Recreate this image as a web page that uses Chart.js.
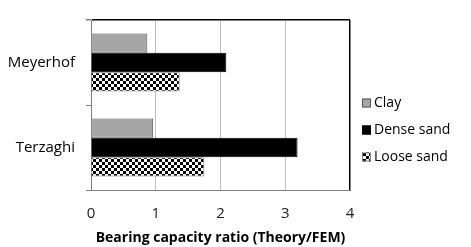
<!DOCTYPE html>
<html>
<head>
<meta charset="utf-8">
<script src="https://cdn.jsdelivr.net/npm/chart.js@4.4.0/dist/chart.umd.min.js"></script>
<style>
  html, body { margin: 0; padding: 0; background: #fff; }
  #wrap { width: 471px; height: 247px; }
</style>
</head>
<body>
<div id="wrap"><canvas id="bcr-chart" width="471" height="247"></canvas></div>
<script>
// methods on the category axis
const methods = ['Meyerhof', 'Terzaghi'];
// bearing capacity ratio (Theory/FEM) per soil
const clay = [0.87, 0.96];
const denseSand = [2.09, 3.19];
const looseSand = [1.37, 1.75];
const xTicks = [0, 1, 2, 3, 4];

const FONT = "'Open Sans', sans-serif";

// checker pattern for the loose sand bars
function checker() {
  const c = document.createElement('canvas');
  c.width = 6; c.height = 6;
  const g = c.getContext('2d');
  g.fillStyle = '#fff';
  g.fillRect(0, 0, 6, 6);
  g.fillStyle = '#000';
  g.fillRect(0, 0, 3, 3);
  g.fillRect(3, 3, 3, 3);
  return g.createPattern(c, 'repeat');
}

document.addEventListener("DOMContentLoaded", () => {
  const ctx = document.getElementById('bcr-chart').getContext('2d');
  const pat = checker();

  // legend drawn on the right, squares + labels
  const sideLegend = {
    id: 'sideLegend',
    afterDraw(chart) {
      const c = chart.ctx;
      const ys = [103, 130, 157];
      c.save();
      c.font = "14px " + FONT;
      c.textBaseline = 'middle';
      chart.data.datasets.forEach((ds, i) => {
        const y = ys[i];
        c.fillStyle = ds.backgroundColor;
        c.fillRect(362, y - 4.5, 9, 9);
        c.strokeStyle = ds.borderColor;
        c.lineWidth = 1;
        c.strokeRect(362.5, y - 4, 8, 8);
        c.fillStyle = '#000';
        c.fillText(ds.label, 374, y);
      });
      c.restore();
    }
  };

  new Chart(ctx, {
    type: 'bar',
    data: {
      labels: methods,
      datasets: [
        { label: 'Clay', data: clay, backgroundColor: '#a6a6a6', borderColor: '#5a5a5a', borderWidth: 1 },
        { label: 'Dense sand', data: denseSand, backgroundColor: '#000', borderColor: '#000', borderWidth: 1 },
        { label: 'Loose sand', data: looseSand, backgroundColor: pat, borderColor: '#808080', borderWidth: 1 }
      ]
    },
    options: {
      indexAxis: 'y',
      responsive: false,
      animation: false,
      devicePixelRatio: 1,
      layout: { padding: { top: 9, right: 121, left: 0, bottom: 0 } },
      datasets: { bar: { categoryPercentage: 0.68, barPercentage: 1.0, borderSkipped: 'left' } },
      plugins: {
        legend: { display: false },
        tooltip: { enabled: false }
      },
      scales: {
        x: {
          min: 0, max: 4,
          afterBuildTicks: s => { s.ticks = xTicks.map(v => ({ value: v })); },
          afterFit: s => { s.height = 57; },
          grid: {
            color: c => c.tick && c.tick.value === 4 ? '#000' : '#c0c0c0',
            lineWidth: c => c.tick && c.tick.value === 4 ? 1.5 : 1,
            drawTicks: false
          },
          border: { display: true, color: '#808080' },
          ticks: { padding: 15, color: '#222', font: { family: FONT, size: 15 } },
          title: {
            display: true,
            text: 'Bearing capacity ratio (Theory/FEM)',
            color: '#000',
            font: { family: FONT, size: 14, weight: 'bold' },
            padding: { top: 4, bottom: 1 }
          }
        },
        y: {
          afterFit: s => { s.width = 91; },
          grid: {
            offset: true,
            color: c => c.index === 0 ? '#000' : (c.index === 2 ? '#808080' : 'rgba(0,0,0,0)'),
            lineWidth: c => c.index === 0 ? 1.5 : 1,
            tickColor: '#808080',
            tickLength: 5
          },
          border: { display: true, color: '#808080' },
          ticks: { padding: 11, color: '#000', font: { family: FONT, size: 15 } }
        }
      }
    },
    plugins: [sideLegend]
  });
});
</script>
</body>
</html>
